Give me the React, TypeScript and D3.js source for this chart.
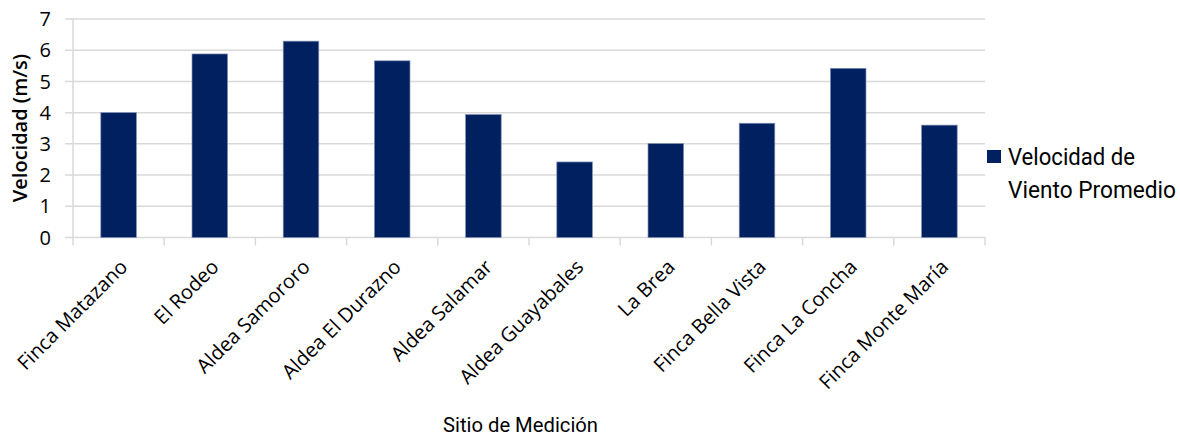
import React from "react";
import * as d3 from "d3";

// Wind speed by measurement site
const sites = [
  "Finca Matazano",
  "El Rodeo",
  "Aldea Samororo",
  "Aldea El Durazno",
  "Aldea Salamar",
  "Aldea Guayabales",
  "La Brea",
  "Finca Bella Vista",
  "Finca La Concha",
  "Finca Monte María",
];
const speeds = [4.0, 5.88, 6.29, 5.66, 3.94, 2.42, 3.01, 3.66, 5.42, 3.6];
const yTicks = [0, 1, 2, 3, 4, 5, 6, 7];
const seriesName = ["Velocidad de", "Viento Promedio"];
const xTitle = "Sitio de Medición";
const yTitle = "Velocidad (m/s)";

const W = 1180;
const H = 437;
const plot = { left: 73, right: 985, top: 19, bottom: 237.5 };
const barColor = "#002060";
const gridColor = "#d9d9d9";
const labelFont = "'Open Sans', sans-serif";
const titleFont = "Roboto, sans-serif";

export default function App() {
  const y = d3.scaleLinear().domain([0, 7]).range([plot.bottom, plot.top]);
  const x = d3
    .scaleBand<string>()
    .domain(sites)
    .range([plot.left, plot.right])
    .paddingInner(0.61)
    .paddingOuter(0.305);
  const step = x.step();
  const boundaries = sites.map((s) => (x(s) as number) + x.bandwidth() / 2 - step / 2);
  boundaries.push(plot.right);

  return (
    <svg
      width={W}
      height={H}
      style={{ position: "absolute", left: 0, top: 0, background: "#fff" }}
    >
      {/* horizontal gridlines */}
      {yTicks.map((t) => (
        <line
          key={"g" + t}
          x1={plot.left - 8}
          x2={plot.right}
          y1={y(t)}
          y2={y(t)}
          stroke={gridColor}
          strokeWidth={1.5}
        />
      ))}
      {/* vertical axis line */}
      <line
        x1={plot.left}
        x2={plot.left}
        y1={plot.top}
        y2={plot.bottom}
        stroke={gridColor}
        strokeWidth={1.5}
      />
      {/* category tick marks */}
      {boundaries.map((b, i) => (
        <line
          key={"t" + i}
          x1={b}
          x2={b}
          y1={plot.bottom}
          y2={plot.bottom + 8}
          stroke={gridColor}
          strokeWidth={1.5}
        />
      ))}
      {/* bars */}
      {sites.map((s, i) => (
        <rect
          key={s}
          x={x(s)}
          y={y(speeds[i])}
          width={x.bandwidth()}
          height={y(0) - y(speeds[i])}
          fill={barColor}
          stroke="#7f8fb3"
          strokeWidth={0.7}
        />
      ))}
      {/* y tick labels */}
      {yTicks.map((t) => (
        <text
          key={"yl" + t}
          x={51}
          y={y(t)}
          dy="0.36em"
          textAnchor="end"
          fontFamily={labelFont}
          fontSize={20}
          fill="#000"
        >
          {t}
        </text>
      ))}
      {/* x category labels */}
      {sites.map((s) => (
        <text
          key={"xl" + s}
          transform={`translate(${(x(s) as number) + x.bandwidth() / 2},258) rotate(-45)`}
          dy="0.72em"
          textAnchor="end"
          fontFamily={labelFont}
          fontSize={20}
          fill="#000"
        >
          {s}
        </text>
      ))}
      {/* axis titles */}
      <text
        transform="translate(27,128) rotate(-90)"
        textAnchor="middle"
        fontFamily={labelFont}
        fontWeight={600}
        fontSize={20}
        fill="#000"
      >
        {yTitle}
      </text>
      <text
        x={443}
        y={432}
        textLength={155}
        lengthAdjust="spacingAndGlyphs"
        fontFamily={titleFont}
        fontSize={21}
        fill="#000"
      >
        {xTitle}
      </text>
      {/* legend */}
      <rect x={987} y={150} width={14} height={13} fill={barColor} />
      {seriesName.map((line, i) => (
        <text
          key={"lg" + i}
          x={1008}
          y={165 + i * 33}
          textLength={i === 0 ? 127 : 168}
          lengthAdjust="spacingAndGlyphs"
          fontFamily={titleFont}
          fontSize={23}
          fill="#000"
        >
          {line}
        </text>
      ))}
    </svg>
  );
}
